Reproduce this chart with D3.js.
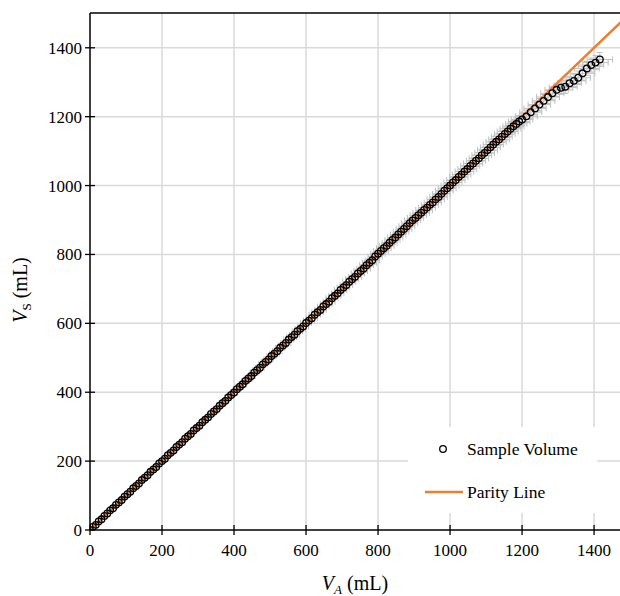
<!DOCTYPE html>
<html><head><meta charset="utf-8">
<script src="https://cdn.jsdelivr.net/npm/d3@7"></script>
<style>body{margin:0;background:#fff}svg{display:block}</style>
</head><body>
<svg id="c" width="620" height="596"></svg>
<script>
const xTicks = [0,200,400,600,800,1000,1200,1400];
const yTicks = [0,200,400,600,800,1000,1200,1400];
const volA = [0,8,16,24,32,40,48,56,64,72,80,88,96,104,112,120,128,136,144,152,160,168,176,184,192,200,
208,216,224,232,240,248,256,264,272,280,288,296,304,312,320,328,336,344,352,360,368,376,384,392,400,
408,416,424,432,440,448,456,464,472,480,488,496,504,512,520,528,536,544,552,560,568,576,584,592,600,
608,616,624,632,640,648,656,664,672,680,688,696,704,712,720,728,736,744,752,760,768,776,784,792,800,
808,816,824,832,840,848,856,864,872,880,888,896,904,912,920,928,936,944,952,960,968,976,984,992,1000,
1008,1016,1024,1032,1040,1048,1056,1064,1072,1080,1088,1096,1104,1112,1120,1128,1136,1144,1152,1160,1168,1176,1184,1192,1200,
1212,1224,1236,1248,1260,1272,1284,1296,1308,1320,1332,1344,1356,1368,1380,1392,1404,1416];
const volS = [0,9,15,25,31,41,48,57,63,73,80,87,97,104,111,121,128,135,145,152,159,169,176,183,193,200,
207,217,224,231,241,248,255,265,272,279,289,296,303,313,320,327,337,344,351,361,368,375,385,392,399,
409,416,423,433,440,447,457,464,471,481,488,495,505,512,519,529,536,543,553,560,567,577,584,591,601,
608,615,625,632,639,649,656,663,673,680,687,697,704,711,721,728,735,745,752,759,769,776,783,794,802,
810,818,825,834,842,849,858,866,874,882,891,899,906,914,921,929,936,944,951,960,967,976,985,992,1000,
1009,1016,1025,1032,1041,1048,1057,1064,1072,1079,1088,1095,1103,1111,1119,1127,1134,1142,1150,1157,1165,1172,1179,1186,1192,
1201,1213,1224,1235,1246,1257,1268,1278,1284,1287,1297,1304,1313,1326,1340,1350,1357,1366];
const parity = [0,1500];
const errXPct = 0.025, errYPct = 0.015;
const legendLabels = ["Sample Volume","Parity Line"];

const svg = d3.select("#c");
const L=90,R=620,T=13,B=530;
const x = d3.scaleLinear().domain([0,1472]).range([L,R]);
const y = d3.scaleLinear().domain([0,1501]).range([B,T]);
const font = "'Liberation Serif','Times New Roman',serif";

// grid
svg.append("g").selectAll("line").data(xTicks.filter(d=>d>0)).join("line")
  .attr("x1",d=>x(d)).attr("x2",d=>x(d)).attr("y1",T).attr("y2",B)
  .attr("stroke","#d9d9d9").attr("stroke-width",1.5);
svg.append("g").selectAll("line").data(yTicks.filter(d=>d>0)).join("line")
  .attr("y1",d=>y(d)).attr("y2",d=>y(d)).attr("x1",L).attr("x2",R)
  .attr("stroke","#d9d9d9").attr("stroke-width",1.5);

const pts = volA.map((a,i)=>({a, s:volS[i]}));
const plot = svg.append("g");
plot.append("clipPath").attr("id","clip").append("rect").attr("x",L).attr("y",T).attr("width",R-L).attr("height",B-T);
const pg = plot.append("g").attr("clip-path","url(#clip)");

// error bars
const eb = pg.append("g").attr("stroke","#bfbfbf").attr("stroke-width",1).attr("fill","none");
pts.forEach(p=>{
  const ex = p.a*errXPct, ey = p.s*errYPct;
  const cx = x(p.a), cy = y(p.s);
  eb.append("line").attr("x1",x(p.a-ex)).attr("x2",x(p.a+ex)).attr("y1",cy).attr("y2",cy);
  eb.append("line").attr("x1",x(p.a-ex)).attr("x2",x(p.a-ex)).attr("y1",cy-3).attr("y2",cy+3);
  eb.append("line").attr("x1",x(p.a+ex)).attr("x2",x(p.a+ex)).attr("y1",cy-3).attr("y2",cy+3);
  eb.append("line").attr("x1",cx).attr("x2",cx).attr("y1",y(p.s-ey)).attr("y2",y(p.s+ey));
  eb.append("line").attr("x1",cx-3).attr("x2",cx+3).attr("y1",y(p.s-ey)).attr("y2",y(p.s-ey));
  eb.append("line").attr("x1",cx-3).attr("x2",cx+3).attr("y1",y(p.s+ey)).attr("y2",y(p.s+ey));
});

// parity line
pg.append("path").datum(parity).attr("d",d3.line().x(d=>x(d)).y(d=>y(d)))
  .attr("stroke","#ed7d31").attr("stroke-width",2.5).attr("fill","none");

// points
pg.append("g").selectAll("circle").data(pts).join("circle")
  .attr("cx",d=>x(d.a)).attr("cy",d=>y(d.s)).attr("r",3.3)
  .attr("fill","none").attr("stroke","#000").attr("stroke-width",1.3);

// axes lines
svg.append("line").attr("x1",L).attr("x2",L).attr("y1",T).attr("y2",B).attr("stroke","#000").attr("stroke-width",1.5);
svg.append("line").attr("x1",L).attr("x2",R).attr("y1",B).attr("y2",B).attr("stroke","#000").attr("stroke-width",1.5);
svg.append("line").attr("x1",L).attr("x2",R).attr("y1",T).attr("y2",T).attr("stroke","#000").attr("stroke-width",1.5);

// ticks
svg.append("g").selectAll("line").data(xTicks).join("line")
  .attr("x1",d=>x(d)).attr("x2",d=>x(d)).attr("y1",B-5).attr("y2",B+5).attr("stroke","#000").attr("stroke-width",1.3);
svg.append("g").selectAll("line").data(yTicks).join("line")
  .attr("y1",d=>y(d)).attr("y2",d=>y(d)).attr("x1",L-5).attr("x2",L+5).attr("stroke","#000").attr("stroke-width",1.3);
svg.append("g").selectAll("text").data(xTicks).join("text")
  .attr("x",d=>x(d)).attr("y",B+26).attr("text-anchor","middle")
  .attr("font-family",font).attr("font-size",17).text(d=>d);
svg.append("g").selectAll("text").data(yTicks).join("text")
  .attr("x",L-8).attr("y",d=>y(d)+6).attr("text-anchor","end")
  .attr("font-family",font).attr("font-size",17).text(d=>d);

// axis titles
const xt = svg.append("text").attr("x",355).attr("y",590).attr("text-anchor","middle")
  .attr("font-family",font).attr("font-size",20);
xt.append("tspan").attr("font-style","italic").text("V");
xt.append("tspan").attr("font-style","italic").attr("font-size",13).attr("dy",4).text("A");
xt.append("tspan").attr("dy",-4).text(" (mL)");
const yt = svg.append("text").attr("transform","translate(27,290) rotate(-90)").attr("text-anchor","middle")
  .attr("font-family",font).attr("font-size",20);
yt.append("tspan").attr("font-style","italic").text("V");
yt.append("tspan").attr("font-size",13).attr("dy",4).text("S");
yt.append("tspan").attr("dy",-4).text(" (mL)");

// legend
svg.append("rect").attr("x",408).attr("y",427).attr("width",189).attr("height",86).attr("fill","#fff");
svg.append("circle").attr("cx",443).attr("cy",449).attr("r",3.3).attr("fill","none").attr("stroke","#000").attr("stroke-width",1.3);
svg.append("line").attr("x1",425).attr("x2",463).attr("y1",492).attr("y2",492).attr("stroke","#ed7d31").attr("stroke-width",2.5);
svg.append("g").selectAll("text").data(legendLabels).join("text")
  .attr("x",467).attr("y",(d,i)=>455+i*43).attr("font-family",font).attr("font-size",17.5).text(d=>d);
</script>
</body></html>
